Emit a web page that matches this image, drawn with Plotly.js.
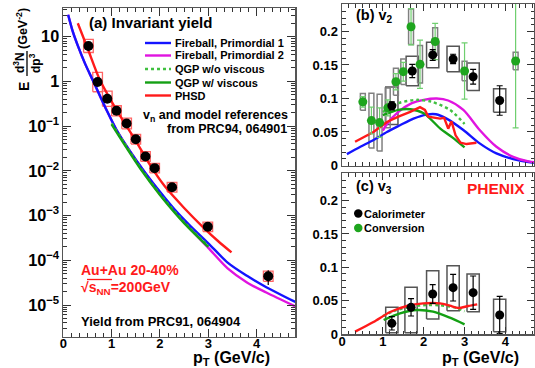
<!DOCTYPE html>
<html>
<head>
<meta charset="utf-8">
<script src="https://cdn.plot.ly/plotly-3.0.1.min.js"></script>
<style>
  html, body { margin: 0; padding: 0; background: #fff; }
  #chart { width: 535px; height: 368px; }
</style>
</head>
<body>
<div id="chart"></div>
<script>
// ---------- (a) direct photon invariant yield, Au+Au 20-40% ----------
const yieldPt        = [0.52, 0.71, 0.91, 1.10, 1.31, 1.50, 1.70, 1.89, 2.25, 2.99, 4.24];
const yieldVal       = [6.2, 0.97, 0.41, 0.22, 0.115, 0.051, 0.021, 0.0115, 0.0043, 5.6e-4, 4.4e-5];
const yieldStat      = [0.4, 0.08, 0.03, 0.015, 0.008, 0.004, 0.0015, 0.0008, 0.0003, 5e-5, 1.6e-5];
const yieldSysFactor = [1.4, 1.65, 1.48, 1.3, 1.32, 1.28, 1.28, 1.28, 1.28, 1.28, 1.3];

// model yields
const fbPt     = [0.1, 0.2, 0.3, 0.45, 0.6, 0.75, 0.9, 1.1, 1.3, 1.5, 1.7, 2.0, 2.3, 2.6, 3.0, 3.4, 3.8, 4.2, 4.8];
const fb1Yield = [31, 12.6, 6.3, 2.5, 1.12, 0.50, 0.224, 0.083, 0.037, 0.0178, 0.0089, 0.0034, 0.00138, 6.3e-4, 2.4e-4, 8.9e-5, 4.5e-5, 2.5e-5, 1.17e-5];
const fb2Yield = [31, 12.6, 6.3, 2.5, 1.12, 0.50, 0.224, 0.083, 0.037, 0.0178, 0.0089, 0.0033, 0.00126, 5.4e-4, 1.9e-4, 6.6e-5, 3.2e-5, 1.9e-5, 9.3e-6];
const qgpPt        = [1.0, 1.3, 1.6, 2.0, 2.5, 3.0];
const qgpViscYield = [0.11, 0.034, 0.011, 0.0029, 6.8e-4, 2.0e-4];
const qgpIdealYield= [0.115, 0.036, 0.0115, 0.0030, 7.1e-4, 2.1e-4];
const phsdPt    = [0.3, 0.5, 0.75, 1.0, 1.25, 1.5, 1.8, 2.1, 2.5, 2.9, 3.2, 3.48];
const phsdYield = [20, 5.6, 1.12, 0.355, 0.126, 0.047, 0.0132, 0.0045, 0.00148, 5.4e-4, 2.7e-4, 1.5e-4];

// ---------- (b) v2 ----------
const calV2Pt   = [1.22, 1.72, 2.22, 2.72, 3.21, 3.86];
const calV2     = [0.089, 0.141, 0.165, 0.159, 0.1325, 0.097];
const calV2Stat = [0.006, 0.010, 0.008, 0.007, 0.011, 0.022];
const calV2Sys  = [0.028, 0.022, 0.019, 0.019, 0.0205, 0.0175];

const convV2Pt   = [0.51, 0.72, 0.92, 1.12, 1.32, 1.50, 1.69, 1.91, 2.28, 3.00, 4.25];
const convV2     = [0.095, 0.067, 0.064, 0.086, 0.125, 0.140, 0.207, 0.151, 0.185, 0.141, 0.156];
const convV2Stat = [0.008, 0.02, 0.022, 0.012, 0.012, 0.014, 0.027, 0.036, 0.027, 0.042, 0.1];
const convV2Sys  = [0.0125, 0.041, 0.0425, 0.0295, 0.02, 0.019, 0.0265, 0.028, 0.0205, 0.0145, 0.013];

const fb1V2Pt = [0.12, 0.45, 0.77, 1.10, 1.42, 1.75, 2.07, 2.30, 2.56, 2.97, 3.37, 3.78, 4.19, 4.70];
const fb1V2   = [0.017, 0.028, 0.038, 0.050, 0.060, 0.070, 0.076, 0.0765, 0.070, 0.053, 0.033, 0.018, 0.0097, 0.004];
const fb2V2Pt = [1.0, 1.1, 1.38, 1.71, 2.0, 2.32, 2.6, 2.97, 3.37, 3.78, 4.19, 4.59, 4.70];
const fb2V2   = [0.052, 0.062, 0.080, 0.093, 0.098, 0.100, 0.097, 0.083, 0.053, 0.028, 0.013, 0.0057, 0.005];
const qgpIdealV2Pt = [1.0, 1.38, 1.83, 2.2, 2.64, 3.0];
const qgpIdealV2   = [0.080, 0.093, 0.098, 0.095, 0.083, 0.062];
const qgpViscV2Pt  = [1.0, 1.38, 1.67, 2.0, 2.4, 2.7, 3.0];
const qgpViscV2    = [0.075, 0.083, 0.084, 0.078, 0.0555, 0.042, 0.027];
const phsdV2Pt = [0.32, 0.77, 1.1, 1.38, 1.67, 1.91, 2.03, 2.11, 2.4, 2.5, 2.6, 2.68, 2.78, 2.9, 3.05, 3.29];
const phsdV2   = [0.0355, 0.050, 0.065, 0.073, 0.080, 0.087, 0.083, 0.073, 0.070, 0.071, 0.055, 0.066, 0.045, 0.034, 0.032, 0.034];

// ---------- (c) v3 ----------
const calV3Pt     = [1.22, 1.69, 2.22, 2.72, 3.21, 3.86];
const calV3       = [0.016, 0.040, 0.060, 0.0695, 0.062, 0.0285];
const calV3Stat   = [0.010, 0.013, 0.014, 0.020, 0.025, 0.028];
const calV3SysUp  = [0.024, 0.030, 0.035, 0.033, 0.028, 0.0235];
const calV3SysDn  = [0.014, 0.038, 0.0375, 0.0345, 0.0285, 0.025];

const phsdV3Pt = [0.32, 0.77, 1.18, 1.59, 1.99, 2.40, 2.64, 2.85, 3.09, 3.31];
const phsdV3   = [0.0035, 0.018, 0.033, 0.042, 0.046, 0.046, 0.0425, 0.039, 0.042, 0.0445];
const qgpViscV3Pt  = [1.02, 1.42, 1.83, 2.23, 2.64, 3.0];
const qgpViscV3    = [0.021, 0.031, 0.036, 0.0335, 0.0245, 0.0145];
const qgpIdealV3Pt = [1.0, 1.3, 1.7, 2.07, 2.40, 2.81, 3.0];
const qgpIdealV3   = [0.027, 0.035, 0.041, 0.0435, 0.043, 0.039, 0.034];

// ---------- text ----------
const modelNames = ['Fireball, Primordial 1', 'Fireball, Primordial 2', 'QGP w/o viscous', 'QGP w/ viscous', 'PHSD'];
const xTitle = '<b>p<sub>T</sub> (GeV/c)</b>';

// ---------- styling helpers ----------
const FONT = 'Liberation Sans, Arial, Helvetica, sans-serif';
const W = 535, H = 368;
const px = x => x / W;
const py = y => 1 - y / H;

const BLUE = '#1414ff', MAG = '#e014e0', GREEN = '#14a014', GREEN_DOT = '#40c040', RED = '#ff1a1a';
const modelStyles = [
  { color: BLUE, dash: 'solid' },
  { color: MAG, dash: 'solid' },
  { color: GREEN_DOT, dash: 'dot' },
  { color: GREEN, dash: 'solid' },
  { color: RED, dash: 'solid' }
];

// closed rectangles (with gaps) around each point for systematic uncertainties
function boxPath(xs, lo, hi, halfW) {
  const bx = [], by = [];
  xs.forEach((x, i) => {
    bx.push(x - halfW, x + halfW, x + halfW, x - halfW, x - halfW, null);
    by.push(lo[i], lo[i], hi[i], hi[i], lo[i], null);
  });
  return { x: bx, y: by };
}

function curve(x, y, style, xa, ya, shape) {
  return {
    type: 'scatter', mode: 'lines', x, y, xaxis: xa, yaxis: ya,
    line: { color: style.color, dash: style.dash, width: 2.4, shape: shape || 'spline', smoothing: 0.8 },
    hoverinfo: 'skip', showlegend: false
  };
}

const traces = [];

// (a) systematic boxes
const aBox = boxPath(yieldPt, yieldVal.map((v, i) => v / yieldSysFactor[i]), yieldVal.map((v, i) => v * yieldSysFactor[i]), 0.1);
traces.push({ type: 'scatter', mode: 'lines', x: aBox.x, y: aBox.y, xaxis: 'x', yaxis: 'y',
  line: { color: '#ff6464', width: 1.3 }, hoverinfo: 'skip', showlegend: false });
// (a) models
traces.push(curve(fbPt, fb2Yield, modelStyles[1], 'x', 'y'));
traces.push(curve(fbPt, fb1Yield, modelStyles[0], 'x', 'y'));
traces.push(curve(qgpPt, qgpIdealYield, modelStyles[2], 'x', 'y'));
traces.push(curve(qgpPt, qgpViscYield, modelStyles[3], 'x', 'y'));
traces.push(curve(phsdPt, phsdYield, modelStyles[4], 'x', 'y'));
// (a) data
traces.push({ type: 'scatter', mode: 'markers', x: yieldPt, y: yieldVal, xaxis: 'x', yaxis: 'y',
  marker: { color: '#000', size: 10 },
  error_y: { type: 'data', array: yieldStat, color: '#000', thickness: 1.2, width: 0 },
  hoverinfo: 'skip', showlegend: false });

// (b) systematic boxes
const bCalBox = boxPath(calV2Pt, calV2.map((v, i) => v - calV2Sys[i]), calV2.map((v, i) => v + calV2Sys[i]), 0.15);
const bConvBox = boxPath(convV2Pt, convV2.map((v, i) => v - convV2Sys[i]), convV2.map((v, i) => v + convV2Sys[i]), 0.06);
traces.push({ type: 'scatter', mode: 'lines', x: bCalBox.x, y: bCalBox.y, xaxis: 'x2', yaxis: 'y2',
  line: { color: '#555', width: 1.5 }, hoverinfo: 'skip', showlegend: false });
traces.push({ type: 'scatter', mode: 'lines', x: bConvBox.x, y: bConvBox.y, xaxis: 'x2', yaxis: 'y2',
  line: { color: '#808080', width: 1.5 }, hoverinfo: 'skip', showlegend: false });
// (b) models
traces.push(curve(fb1V2Pt, fb1V2, modelStyles[0], 'x2', 'y2'));
traces.push(curve(fb2V2Pt, fb2V2, modelStyles[1], 'x2', 'y2'));
traces.push(curve(qgpIdealV2Pt, qgpIdealV2, modelStyles[2], 'x2', 'y2'));
traces.push(curve(qgpViscV2Pt, qgpViscV2, modelStyles[3], 'x2', 'y2'));
traces.push(curve(phsdV2Pt, phsdV2, modelStyles[4], 'x2', 'y2', 'linear'));
// (b) data
traces.push({ type: 'scatter', mode: 'markers', x: convV2Pt, y: convV2, xaxis: 'x2', yaxis: 'y2',
  marker: { color: '#1ea51e', size: 9 },
  error_y: { type: 'data', array: convV2Stat, color: '#6fcf6f', thickness: 1.2, width: 3 },
  hoverinfo: 'skip', showlegend: false });
traces.push({ type: 'scatter', mode: 'markers', x: calV2Pt, y: calV2, xaxis: 'x2', yaxis: 'y2',
  marker: { color: '#000', size: 9 },
  error_y: { type: 'data', array: calV2Stat, color: '#000', thickness: 1.2, width: 3 },
  hoverinfo: 'skip', showlegend: false });

// (c) systematic boxes
const cCalBox = boxPath(calV3Pt, calV3.map((v, i) => v - calV3SysDn[i]), calV3.map((v, i) => v + calV3SysUp[i]), 0.15);
traces.push({ type: 'scatter', mode: 'lines', x: cCalBox.x, y: cCalBox.y, xaxis: 'x3', yaxis: 'y3',
  line: { color: '#555', width: 1.5 }, hoverinfo: 'skip', showlegend: false });
// (c) models
traces.push(curve(qgpIdealV3Pt, qgpIdealV3, modelStyles[2], 'x3', 'y3'));
traces.push(curve(qgpViscV3Pt, qgpViscV3, modelStyles[3], 'x3', 'y3'));
traces.push(curve(phsdV3Pt, phsdV3, modelStyles[4], 'x3', 'y3'));
// (c) data
traces.push({ type: 'scatter', mode: 'markers', x: calV3Pt, y: calV3, xaxis: 'x3', yaxis: 'y3',
  marker: { color: '#000', size: 9 },
  error_y: { type: 'data', array: calV3Stat, color: '#000', thickness: 1.2, width: 3 },
  hoverinfo: 'skip', showlegend: false });

// ---------- axes ----------
const tickFont = { family: FONT, size: 13, color: '#000', weight: 'bold' };
function axisBase(extra) {
  return Object.assign({
    showgrid: false, zeroline: false, showline: true, linecolor: '#555', linewidth: 1.5,
    mirror: 'allticks', ticks: 'inside', tickcolor: '#333', tickwidth: 1, ticklen: 7,
    tickfont: tickFont, fixedrange: true
  }, extra);
}

const layout = {
  width: W, height: H,
  margin: { l: 0, r: 0, t: 0, b: 0, pad: 0 },
  paper_bgcolor: '#fff', plot_bgcolor: '#fff',
  showlegend: false,
  xaxis: axisBase({ domain: [px(63.3), px(295.3)], range: [0, 4.8], anchor: 'y', dtick: 1, tick0: 0, ticklen: 8,
    ticklabelstandoff: -6,
    minor: { ticks: 'inside', ticklen: 4, dtick: 1 / 6, tickcolor: '#333' } }),
  yaxis: axisBase({ type: 'log', domain: [py(336.7), py(8)], range: [-5.709, 1.642], anchor: 'x', dtick: 1,
    exponentformat: 'power', ticklen: 8,
    minor: { ticks: 'inside', ticklen: 4, dtick: 'D1', tickcolor: '#333' } }),
  xaxis2: axisBase({ domain: [px(342), px(534)], range: [0, 4.7], anchor: 'y2', dtick: 1, tick0: 0,
    showticklabels: false, minor: { ticks: 'inside', ticklen: 3.5, dtick: 1 / 6, tickcolor: '#333' } }),
  yaxis2: axisBase({ domain: [py(165.5), py(4)], range: [0, 0.241], anchor: 'x2', dtick: 0.05, tick0: 0,
    minor: { ticks: 'inside', ticklen: 3.5, dtick: 0.01, tickcolor: '#333' } }),
  xaxis3: axisBase({ domain: [px(342), px(534)], range: [0, 4.7], anchor: 'y3', dtick: 1, tick0: 0,
    ticklabelstandoff: -5,
    minor: { ticks: 'inside', ticklen: 3.5, dtick: 1 / 6, tickcolor: '#333' } }),
  yaxis3: axisBase({ domain: [py(334), py(173.3)], range: [0, 0.241], anchor: 'x3', dtick: 0.05, tick0: 0,
    minor: { ticks: 'inside', ticklen: 3.5, dtick: 0.01, tickcolor: '#333' } }),
  annotations: [],
  shapes: []
};

function note(text, x, y, opts) {
  layout.annotations.push(Object.assign({
    text, x: px(x), y: py(y), xref: 'paper', yref: 'paper', showarrow: false,
    xanchor: 'left', yanchor: 'middle',
    font: { family: FONT, size: 12, color: '#000' }
  }, opts || {}));
}

// panel (a) labels
note('<b>(a) Invariant yield</b>', 87, 22, { font: { family: FONT, size: 15, color: '#000' } });
const legendY = [43, 55.5, 69, 82.5, 95.5];
modelNames.forEach((name, i) => {
  note('<b>' + name + '</b>', 173, legendY[i], { font: { family: FONT, size: 11, color: '#000' } });
  layout.shapes.push({ type: 'line', xref: 'paper', yref: 'paper',
    x0: px(145), x1: px(171), y0: py(legendY[i]), y1: py(legendY[i]),
    line: { color: modelStyles[i].color, width: 2.4, dash: modelStyles[i].dash } });
});
note('<b>v<sub>n</sub> and model references</b>', 290, 116, { xanchor: 'right', font: { family: FONT, size: 12.5, color: '#000' } });
note('<b>from PRC94, 064901</b>', 289, 128.5, { xanchor: 'right', font: { family: FONT, size: 12.5, color: '#000' } });
note('<b>Au+Au 20-40%</b>', 79, 270, { font: { family: FONT, size: 14, color: RED } });
note('<b>√s<sub>NN</sub>=200GeV</b>', 79, 287.5, { font: { family: FONT, size: 14, color: RED } });
layout.shapes.push({ type: 'line', xref: 'paper', yref: 'paper', x0: px(87), x1: px(112), y0: py(279.5), y1: py(279.5),
  line: { color: RED, width: 1.3 } });
note('<b>Yield from PRC91, 064904</b>', 79, 321.5, { font: { family: FONT, size: 13, color: '#000' } });

// y title of (a): E d3N/dp3 (GeV^-2), rotated
note('<b>E</b>', 24, 86, { textangle: -90, xanchor: 'center', font: { family: FONT, size: 14, color: '#000' } });
note('<b>d<sup>3</sup>N</b>', 19, 63, { textangle: -90, xanchor: 'center', font: { family: FONT, size: 12, color: '#000' } });
note('<b>dp<sup>3</sup></b>', 35, 63, { textangle: -90, xanchor: 'center', font: { family: FONT, size: 12, color: '#000' } });
layout.shapes.push({ type: 'line', xref: 'paper', yref: 'paper', x0: px(27), x1: px(27), y0: py(51), y1: py(76),
  line: { color: '#000', width: 1.3 } });
note('<b>(GeV<sup>-2</sup>)</b>', 22, 29, { textangle: -90, xanchor: 'center', font: { family: FONT, size: 12.5, color: '#000' } });

// x titles
note(xTitle, 272, 358, { xanchor: 'right', font: { family: FONT, size: 16, color: '#000' } });
note(xTitle, 521, 358, { xanchor: 'right', font: { family: FONT, size: 16, color: '#000' } });

// panels (b), (c)
note('<b>(b) v<sub>2</sub></b>', 354, 16, { font: { family: FONT, size: 14.5, color: '#000' } });
note('<b>(c) v<sub>3</sub></b>', 354, 187, { font: { family: FONT, size: 14.5, color: '#000' } });
note('<b>PHENIX</b>', 465, 188, { font: { family: FONT, size: 15.5, color: RED } });
note('<b>Calorimeter</b>', 362, 213.5, { font: { family: FONT, size: 11, color: '#000' } });
note('<b>Conversion</b>', 362, 228, { font: { family: FONT, size: 11, color: '#000' } });
[[213.5, '#000'], [228, '#1ea51e']].forEach(([y, c]) => {
  layout.shapes.push({ type: 'circle', xref: 'paper', yref: 'paper',
    x0: px(354), x1: px(362.5), y0: py(y + 4.2), y1: py(y - 4.2),
    fillcolor: c, line: { width: 0 } });
});

Plotly.newPlot('chart', traces, layout, { staticPlot: true, displayModeBar: false });
</script>
</body>
</html>
